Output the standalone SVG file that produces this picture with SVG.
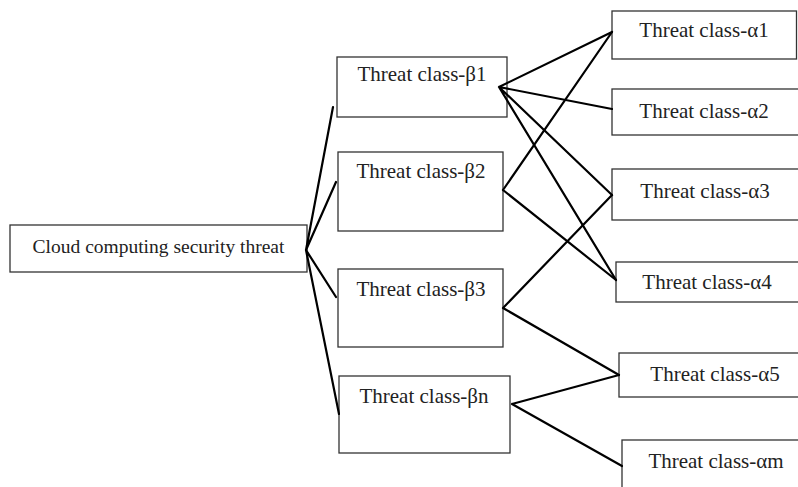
<svg xmlns="http://www.w3.org/2000/svg" width="798" height="487" viewBox="0 0 798 487">
<style>
.box{fill:#fff;stroke:#333;stroke-width:1.3}
.t{font-family:"Liberation Serif","Times New Roman",serif;font-size:21px;fill:#222;text-anchor:middle}
.c{stroke:#000;stroke-width:2.2;fill:none;stroke-linecap:round}
</style>
<rect width="798" height="487" fill="#fff"/>
<g id="root"><rect class="box" x="10" y="225" width="297" height="47"/><text class="t" x="158.5" y="253" style="font-size:19.5px">Cloud computing security threat</text></g>
<g id="b1"><rect class="box" x="337" y="57" width="170" height="60"/><text class="t" x="422" y="81">Threat class-β1</text></g>
<g id="b2"><rect class="box" x="338" y="152" width="165" height="79"/><text class="t" x="421" y="178">Threat class-β2</text></g>
<g id="b3"><rect class="box" x="338" y="269" width="165" height="78"/><text class="t" x="421" y="296">Threat class-β3</text></g>
<g id="bn"><rect class="box" x="339" y="376" width="171" height="77"/><text class="t" x="424" y="403">Threat class-βn</text></g>
<g id="a1"><rect class="box" x="612" y="11" width="184.5" height="48"/><text class="t" x="704" y="37">Threat class-α1</text></g>
<g id="a2"><rect class="box" x="612" y="89" width="190" height="46"/><text class="t" x="704" y="118">Threat class-α2</text></g>
<g id="a3"><rect class="box" x="612" y="169" width="190" height="51"/><text class="t" x="705" y="198">Threat class-α3</text></g>
<g id="a4"><rect class="box" x="616" y="262" width="190" height="40"/><text class="t" x="707" y="289">Threat class-α4</text></g>
<g id="a5"><rect class="box" x="619" y="353" width="190" height="44"/><text class="t" x="715" y="381">Threat class-α5</text></g>
<g id="am"><rect class="box" x="622" y="440" width="190" height="60"/><text class="t" x="716" y="468">Threat class-αm</text></g>
<g id="connectors">
<path class="c" d="M333,107 L306,250 L336,182 M306,250 L336,297 M306,250 L339,414"/>
<path class="c" d="M499,87 L612,32 M499,87 L612,109 M499,87 L612,195 M499,87 L616,280"/>
<path class="c" d="M503,190 L612,32 M503,190 L616,280"/>
<path class="c" d="M503,308 L612,195 M503,308 L619,375"/>
<path class="c" d="M512,404 L619,375 M512,404 L622,466"/>
</g>
</svg>
